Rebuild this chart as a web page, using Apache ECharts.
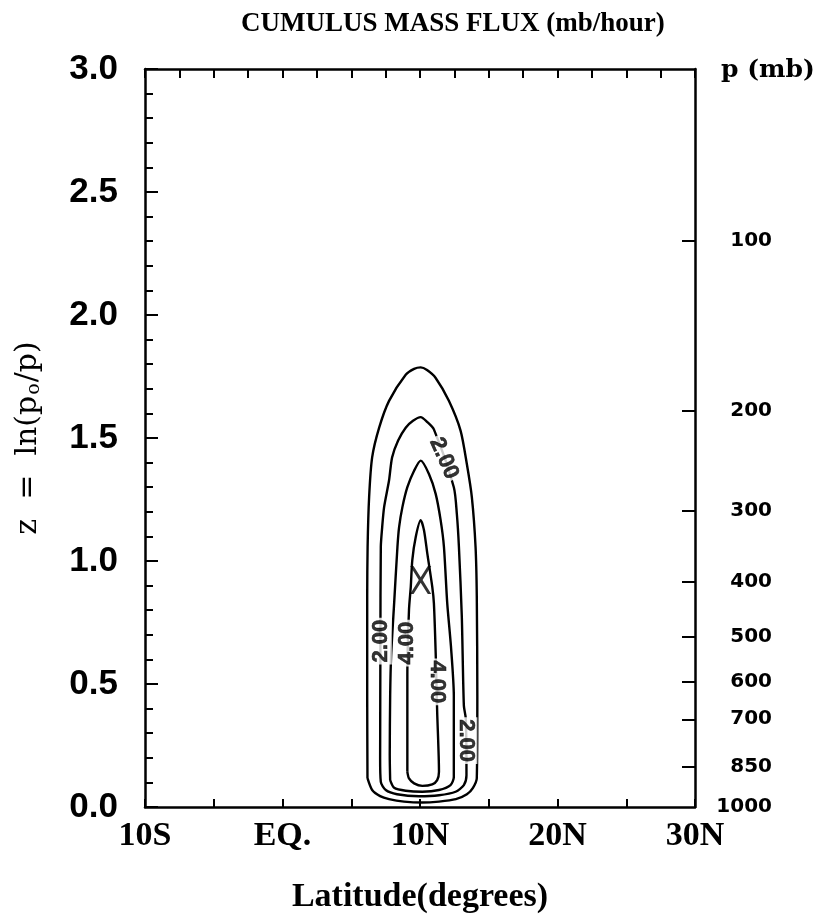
<!DOCTYPE html>
<html>
<head>
<meta charset="utf-8">
<script src="https://cdn.jsdelivr.net/npm/echarts@6/dist/echarts.min.js"></script>
<style>
  html, body { margin: 0; padding: 0; background: #fff; }
  #chart { width: 826px; height: 922px; }
</style>
</head>
<body>
<div id="chart"></div>
<script>
// latitude ticks (degrees) and their labels
var latTicks = [-10, 0, 10, 20, 30];
var latLabels = ['10S', 'EQ.', '10N', '20N', '30N'];
// pressure levels (mb) marked on the right axis
var pressureTicks = [100, 200, 300, 400, 500, 600, 700, 850, 1000];

// contour lines [latitude, z], levels 1,2,3,4 mb/hour
var contour1 = [[6.18,0.117],[6.16,0.452],[6.16,0.856],[6.19,1.058],[6.30,1.260],[6.52,1.421],[7.03,1.542],
  [7.75,1.651],[8.96,1.757],[9.57,1.781],[10.05,1.787],[10.51,1.776],[11.14,1.744],[12.10,1.651],[12.95,1.530],
  [13.41,1.393],[13.77,1.260],[14.04,1.058],[14.13,0.856],[14.17,0.452],[14.13,0.117],[13.84,0.077],[13.41,0.052],
  [12.61,0.032],[11.38,0.022],[10.14,0.018],[8.84,0.022],[7.75,0.032],[7.10,0.044],[6.52,0.069],[6.18,0.117]];
var contour2 = [[7.10,0.198],[7.12,0.654],[7.15,1.058],[7.25,1.138],[7.39,1.219],[7.75,1.328],[7.97,1.421],
  [8.41,1.490],[8.96,1.542],[9.49,1.570],[10.05,1.585],[10.51,1.566],[11.01,1.535],[12.46,1.300],[12.68,1.191],
  [12.83,1.058],[13.04,0.775],[13.19,0.412],[13.33,0.359],[13.38,0.129],[13.19,0.089],[12.59,0.062],[11.38,0.048],
  [9.93,0.044],[8.33,0.052],[7.51,0.069],[7.15,0.102],[7.10,0.198]];
var contour3 = [[7.83,0.109],[7.80,0.210],[7.83,0.452],[7.90,0.614],[8.12,0.829],[8.36,1.058],[8.48,1.138],
  [8.72,1.219],[9.08,1.300],[9.57,1.367],[10.05,1.408],[10.65,1.354],[11.14,1.273],[11.50,1.166],[11.74,1.058],
  [11.98,0.829],[12.25,0.654],[12.46,0.452],[12.46,0.122],[12.22,0.089],[11.38,0.069],[10.17,0.062],[8.96,0.066],
  [8.12,0.078],[7.83,0.109]];
var contour4 = [[9.08,0.143],[9.08,0.223],[9.08,0.533],[9.20,0.802],[9.33,0.896],[9.44,1.004],[9.69,1.098],
  [10.05,1.166],[10.29,1.125],[10.53,1.031],[10.89,0.896],[11.01,0.829],[11.14,0.627],[11.25,0.385],[11.38,0.143],
  [11.25,0.109],[10.89,0.092],[10.17,0.086],[9.57,0.096],[9.20,0.116],[9.08,0.143]];

// contour labels [latitude, z, text] and their text angles
var contourLabels = [[11.74,1.417,'2.00'],[7.15,0.674,'2.00'],[9.06,0.666,'4.00'],[11.23,0.509,'4.00'],[13.37,0.270,'2.00']];
var labelAngles = [-66, 90, 90, -90, -90];

// maximum marked with an X
var maxPoint = [[10.05, 0.923]];

var chart = echarts.init(document.getElementById('chart'));

var lineSeries = [contour1, contour2, contour3, contour4].map(function (c) {
  return {
    type: 'line',
    data: c,
    smooth: 0.25,
    symbol: 'none',
    lineStyle: { color: '#000', width: 2.4 },
    z: 2,
    silent: true
  };
});

var labelData = contourLabels.map(function (d, i) {
  return { value: [d[0], d[1]], name: d[2], label: { rotate: labelAngles[i] } };
});

var axisLine = { onZero: false, lineStyle: { color: '#000', width: 2.5 } };

var option = {
  animation: false,
  backgroundColor: '#fff',
  title: [{
    text: 'CUMULUS MASS FLUX (mb/hour)',
    left: 236,
    top: 6,
    textStyle: { fontFamily: 'Liberation Serif', fontWeight: 'bold', fontSize: 27, color: '#000' }
  }, {
    text: 'p (mb)',
    left: 716,
    top: 53,
    textStyle: { fontFamily: 'DejaVu Serif', fontWeight: 'bold', fontSize: 25, color: '#000' }
  }],
  grid: { left: 145, right: 131, top: 69, bottom: 115 },
  xAxis: [{
    type: 'value',
    min: -10, max: 30, interval: 5,
    position: 'bottom',
    name: 'Latitude(degrees)',
    nameLocation: 'middle',
    nameGap: 73,
    nameTextStyle: { fontFamily: 'Liberation Serif', fontWeight: 'bold', fontSize: 34, color: '#000' },
    axisLine: axisLine,
    axisTick: { inside: true, length: 8, lineStyle: { color: '#000', width: 2 } },
    axisLabel: {
      margin: 12,
      fontFamily: 'Liberation Serif', fontWeight: 'bold', fontSize: 34, color: '#000',
      formatter: function (v) {
        var i = latTicks.indexOf(v);
        return i >= 0 ? latLabels[i] : '';
      }
    },
    splitLine: { show: false }
  }, {
    type: 'value',
    min: -10, max: 30, interval: 2.5,
    position: 'top',
    axisLine: axisLine,
    axisTick: { inside: true, length: 9, lineStyle: { color: '#000', width: 2 } },
    axisLabel: { show: false },
    splitLine: { show: false }
  }],
  yAxis: [{
    type: 'value',
    min: 0, max: 3, interval: 0.5,
    position: 'left',
    name: 'z  =  ln(p{sub|o}/p)',
    nameLocation: 'middle',
    nameRotate: 90,
    nameGap: 101,
    nameTextStyle: {
      fontFamily: 'DejaVu Serif', fontSize: 30, color: '#000',
      rich: { sub: { fontFamily: 'DejaVu Serif', fontSize: 19, color: '#000', padding: [12, 1, 0, 1] } }
    },
    axisLine: axisLine,
    axisTick: { inside: true, length: 13, lineStyle: { color: '#000', width: 2 } },
    minorTick: { show: true, splitNumber: 5, length: 8, lineStyle: { color: '#000', width: 2 } },
    axisLabel: {
      margin: 27,
      fontFamily: 'Liberation Sans', fontWeight: 'bold', fontSize: 35, color: '#000',
      formatter: function (v) { return v.toFixed(1); }
    },
    splitLine: { show: false }
  }, {
    type: 'value',
    min: 0, max: 3,
    position: 'right',
    axisLine: axisLine,
    axisTick: {
      inside: true, length: 13, lineStyle: { color: '#000', width: 2 },
      customValues: pressureTicks.slice(0, -1).map(function (p) { return Math.log(1000 / p); })
    },
    axisLabel: {
      margin: 77,
      align: 'right',
      fontFamily: 'DejaVu Sans', fontWeight: 'bold', fontSize: 20, color: '#000',
      customValues: pressureTicks.map(function (p) { return Math.log(1000 / p); }),
      formatter: function (v) { return String(Math.round(1000 / Math.exp(v))); }
    },
    splitLine: { show: false }
  }],
  series: lineSeries.concat([{
    type: 'scatter',
    data: labelData,
    symbolSize: 1,
    itemStyle: { color: 'rgba(0,0,0,0)' },
    z: 5,
    silent: true,
    label: {
      show: true,
      position: 'inside',
      formatter: '{b}',
      fontFamily: 'Liberation Sans', fontWeight: 'bold', fontSize: 22, color: '#000',
      textBorderColor: '#000', textBorderWidth: 0.6,
      backgroundColor: '#fff',
      padding: [0, 2]
    }
  }, {
    type: 'scatter',
    data: maxPoint,
    symbol: 'path://M0,0 L3.2,0 L10,10.8 L16.8,0 L20,0 L11.8,13.5 L20,27 L16.8,27 L10,16.2 L3.2,27 L0,27 L8.2,13.5 Z',
    symbolSize: [21, 28],
    itemStyle: { color: '#000' },
    z: 4,
    silent: true
  }])
};

chart.setOption(option);
</script>
</body>
</html>
